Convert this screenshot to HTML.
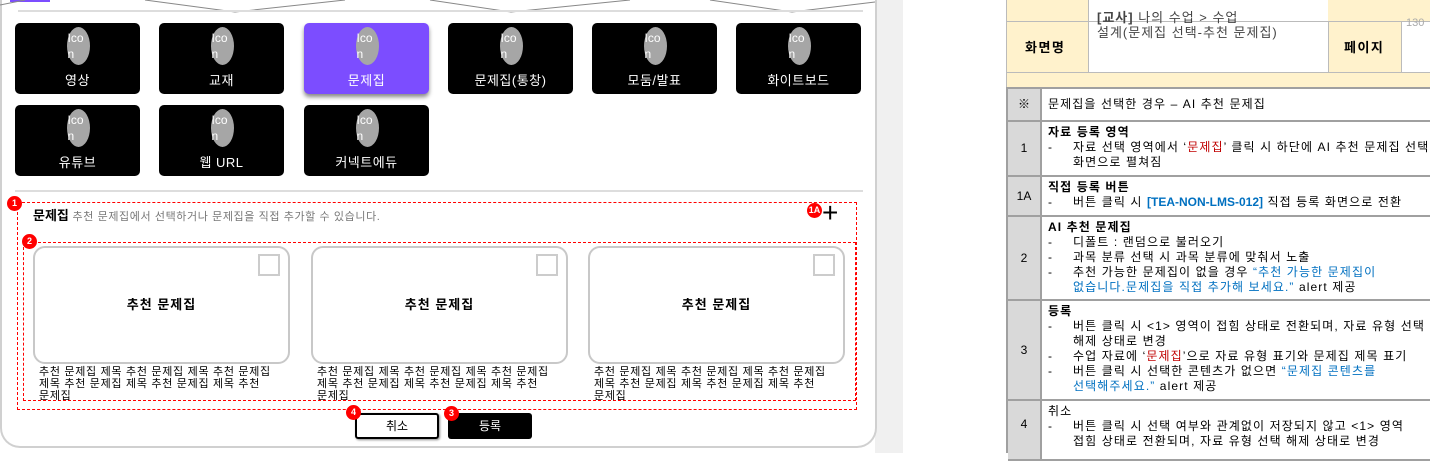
<!DOCTYPE html>
<html><head><meta charset="utf-8"><style>
*{box-sizing:border-box;margin:0;padding:0}
body{width:1430px;height:453px;overflow:hidden;background:#fff;font-family:"Liberation Sans","Noto Sans CJK KR",sans-serif;position:relative}
.a{position:absolute}
.btn{position:absolute;width:125px;height:71px;background:#000;border-radius:5px;color:#fff;font-size:12px;text-align:center}
.btn .ic{position:absolute;left:50%;margin-left:-11px;top:4px;width:23px;height:38px;border-radius:50%;background:#a6a6a6;font-size:12px;line-height:16px;padding-top:3px;text-align:left;padding-left:1px;color:#fff;white-space:nowrap}
.btn .l{position:absolute;left:0;right:0;top:47px;font-size:13px;letter-spacing:0.5px}
.bd{position:absolute;width:15px;height:15px;border-radius:50%;background:#f00;color:#fff;font-size:9px;font-weight:bold;text-align:center;line-height:15px}
.card{position:absolute;top:246px;width:257px;height:118px;border:2px solid #c8c8c8;border-radius:12px;text-align:center;font-size:13px;line-height:114px;font-weight:bold;letter-spacing:1px}
.card .cb{position:absolute;right:8px;top:6px;width:22px;height:22px;border:2px solid #ccc}
.ct{position:absolute;top:366px;width:240px;font-size:11px;line-height:12px;letter-spacing:0.7px;word-break:keep-all}
.t{position:absolute;font-size:12px;line-height:15px;color:#000}
.num{position:absolute;left:1008px;width:32px;background:#d9d9d9;border-bottom:2px solid #a0a0a0;font-size:12px;text-align:center}
.cell{position:absolute;left:1040px;width:390px;border-bottom:2px solid #a0a0a0;border-left:2px solid #a0a0a0;font-size:12px;line-height:15px;padding:3px 0 0 6px;letter-spacing:1.1px;white-space:nowrap;overflow:hidden}
.i{padding-left:25px;text-indent:-25px}
.i b.d{display:inline-block;width:25px;text-indent:0;font-weight:normal}
.bl{color:#0070c0}.rd{color:#c00000}
</style></head><body>
<div class="a" style="left:875px;top:0;width:28px;height:453px;background:#f0f0f0"></div>
<div class="a" style="left:0;top:0;width:877px;height:448px;border:2px solid #d0d0d0;border-top:none;border-radius:0 0 20px 20px;background:#fff"></div>
<div class="a" style="left:10px;top:0;width:40px;height:2px;background:#7c4dff"></div>
<svg class="a" style="left:0;top:0" width="900" height="14"><polyline points="0,5 25,0" stroke="#888" fill="none"/><polyline points="145,0 235,12 345,0" stroke="#888" fill="none"/><polyline points="430,0 511,12 630,0" stroke="#888" fill="none"/><polyline points="710,0 792,12 875,2" stroke="#888" fill="none"/></svg>
<div class="a" style="left:18px;top:10px;width:845px;height:2px;background:#ddd"></div>
<div class="btn" style="left:15px;top:23px"><div class="ic">Ico<br>n</div><div class="l">영상</div></div>
<div class="btn" style="left:159px;top:23px"><div class="ic">Ico<br>n</div><div class="l">교재</div></div>
<div class="btn" style="left:304px;top:23px;background:#7c4dff;box-shadow:0 3px 4px #888"><div class="ic">Ico<br>n</div><div class="l">문제집</div></div>
<div class="btn" style="left:448px;top:23px"><div class="ic">Ico<br>n</div><div class="l">문제집(통창)</div></div>
<div class="btn" style="left:592px;top:23px"><div class="ic">Ico<br>n</div><div class="l">모둠/발표</div></div>
<div class="btn" style="left:736px;top:23px"><div class="ic">Ico<br>n</div><div class="l">화이트보드</div></div>
<div class="btn" style="left:15px;top:105px"><div class="ic">Ico<br>n</div><div class="l">유튜브</div></div>
<div class="btn" style="left:159px;top:105px"><div class="ic">Ico<br>n</div><div class="l">웹 URL</div></div>
<div class="btn" style="left:304px;top:105px"><div class="ic">Ico<br>n</div><div class="l">커넥트에듀</div></div>
<div class="a" style="left:15px;top:190px;width:848px;height:2px;background:#ddd"></div>
<div class="a" style="left:17px;top:202px;width:840px;height:208px;border:1.5px dashed #f00"></div>
<div class="a" style="left:23px;top:242px;width:833px;height:159px;border:1.5px dashed #f00"></div>
<div class="a" style="left:33px;top:205px;font-size:13px;font-weight:bold">문제집 <span style="font-size:11px;font-weight:normal;color:#777;letter-spacing:0.6px">추천 문제집에서 선택하거나 문제집을 직접 추가할 수 있습니다.</span></div>
<div class="a" style="left:822px;top:198px;font-size:28px;line-height:30px;font-weight:300">+</div>
<div class="card" style="left:33px">추천 문제집<div class="cb"></div></div>
<div class="card" style="left:311px">추천 문제집<div class="cb"></div></div>
<div class="card" style="left:588px">추천 문제집<div class="cb"></div></div>
<div class="ct" style="left:39px">추천 문제집 제목 추천 문제집 제목 추천 문제집 제목 추천 문제집 제목 추천 문제집 제목 추천 문제집</div>
<div class="ct" style="left:317px">추천 문제집 제목 추천 문제집 제목 추천 문제집 제목 추천 문제집 제목 추천 문제집 제목 추천 문제집</div>
<div class="ct" style="left:594px">추천 문제집 제목 추천 문제집 제목 추천 문제집 제목 추천 문제집 제목 추천 문제집 제목 추천 문제집</div>
<div class="a" style="left:355px;top:413px;width:84px;height:26px;border:2px solid #000;border-radius:3px;font-size:12px;text-align:center;line-height:22px;box-shadow:1px 1px 2px #888">취소</div>
<div class="a" style="left:448px;top:413px;width:84px;height:26px;background:#000;color:#fff;border-radius:3px;font-size:12px;text-align:center;line-height:26px">등록</div>
<div class="bd" style="left:7px;top:196px">1</div>
<div class="bd" style="left:22px;top:234px">2</div>
<div class="bd" style="left:807px;top:203px">1A</div>
<div class="bd" style="left:346px;top:405px">4</div>
<div class="bd" style="left:444px;top:406px">3</div>
<!-- right table -->
<div class="a" style="left:1006px;top:0;width:424px;height:88px;background:#fff2cc"></div>
<div class="a" style="left:1088px;top:0;width:240px;height:72px;background:#fff;border-left:1px solid #bbb"></div>
<div class="a" style="left:1328px;top:22px;width:74px;height:50px;border-left:1px solid #bbb;border-right:1px solid #bbb"></div>
<div class="a" style="left:1402px;top:22px;width:28px;height:50px;background:#fff"></div>
<div class="a" style="left:1006px;top:21px;width:424px;height:1px;background:#bbb"></div>
<div class="a" style="left:1006px;top:72px;width:424px;height:1px;background:#bbb"></div>
<div class="a" style="left:1006px;top:0;width:1px;height:88px;background:#bbb"></div>
<div class="t" style="left:1097px;top:10px;width:240px;color:#444;font-size:13px;letter-spacing:1px"><b>[교사]</b> 나의 수업 &gt; 수업<br>설계(문제집 선택-추천 문제집)</div>
<div class="t" style="left:1025px;top:40px;font-weight:bold;font-size:13px;letter-spacing:1.5px">화면명</div>
<div class="t" style="left:1344px;top:40px;font-weight:bold;font-size:13px;letter-spacing:1.5px">페이지</div>
<div class="t" style="left:1406px;top:16px;color:#aaa;font-size:11px">130</div>
<div class="a" style="left:1006px;top:88px;width:2px;height:365px;background:#a0a0a0"></div>
<div class="a" style="left:1006px;top:87px;width:424px;height:2px;background:#a0a0a0"></div>
<div class="num" style="top:89px;height:33px;line-height:31px">※</div>
<div class="cell" style="top:89px;height:33px;padding-top:8px">문제집을 선택한 경우 – AI 추천 문제집</div>
<div class="num" style="top:122px;height:55px;line-height:53px">1</div>
<div class="cell" style="top:122px;height:55px"><b>자료 등록 영역</b><div class="i"><b class="d">-</b>자료 선택 영역에서 ‘<span class="rd">문제집</span>’ 클릭 시 하단에 AI 추천 문제집 선택</div><div class="i"><b class="d"></b>화면으로 펼쳐짐</div></div>
<div class="num" style="top:177px;height:40px;line-height:38px">1A</div>
<div class="cell" style="top:177px;height:40px"><b>직접 등록 버튼</b><div class="i"><b class="d">-</b>버튼 클릭 시 <b class="bl" style="letter-spacing:0">[TEA-NON-LMS-012]</b> 직접 등록 화면으로 전환</div></div>
<div class="num" style="top:217px;height:84px;line-height:82px">2</div>
<div class="cell" style="top:217px;height:84px"><b>AI 추천 문제집</b><div class="i"><b class="d">-</b>디폴트 : 랜덤으로 불러오기</div><div class="i"><b class="d">-</b>과목 분류 선택 시 과목 분류에 맞춰서 노출</div><div class="i"><b class="d">-</b>추천 가능한 문제집이 없을 경우 <span class="bl">“추천 가능한 문제집이</span></div><div class="i"><b class="d"></b><span class="bl">없습니다.문제집을 직접 추가해 보세요.”</span> alert 제공</div></div>
<div class="num" style="top:301px;height:100px;line-height:98px">3</div>
<div class="cell" style="top:301px;height:100px"><b>등록</b><div class="i"><b class="d">-</b>버튼 클릭 시 &lt;1&gt; 영역이 접힘 상태로 전환되며, 자료 유형 선택</div><div class="i"><b class="d"></b>해제 상태로 변경</div><div class="i"><b class="d">-</b>수업 자료에 ‘<span class="rd">문제집</span>’으로 자료 유형 표기와 문제집 제목 표기</div><div class="i"><b class="d">-</b>버튼 클릭 시 선택한 콘텐츠가 없으면 <span class="bl">“문제집 콘텐츠를</span></div><div class="i"><b class="d"></b><span class="bl">선택해주세요.”</span> alert 제공</div></div>
<div class="num" style="top:401px;height:60px;line-height:46px">4</div>
<div class="cell" style="top:401px;height:60px">취소<div class="i"><b class="d">-</b>버튼 클릭 시 선택 여부와 관계없이 저장되지 않고 &lt;1&gt; 영역</div><div class="i"><b class="d"></b>접힘 상태로 전환되며, 자료 유형 선택 해제 상태로 변경</div></div>
</body></html>
